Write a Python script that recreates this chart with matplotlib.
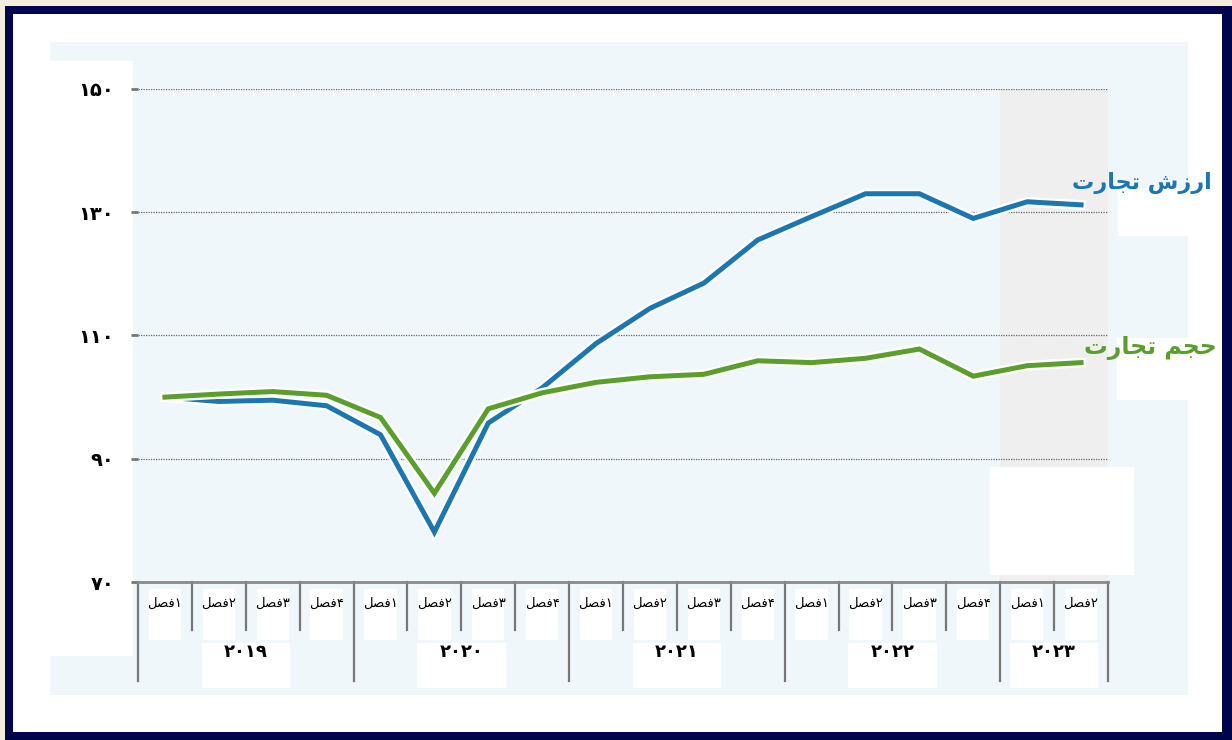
import matplotlib.pyplot as plt
import matplotlib.patheffects as pe
from matplotlib.patches import Rectangle
from matplotlib.transforms import blended_transform_factory
import numpy as np

# quarterly index, 2019 Q1 .. 2023 Q2
years = [2019, 2020, 2021, 2022, 2023]
quarters_per_year = [4, 4, 4, 4, 2]
trade_value = [100.0, 99.3, 99.5, 98.6, 93.9, 78.1, 95.8, 101.5, 108.7, 114.4,
               118.5, 125.5, 129.3, 133.0, 133.0, 129.0, 131.7, 131.2]
trade_volume = [100.0, 100.5, 100.9, 100.3, 96.7, 84.4, 98.1, 100.7, 102.4, 103.3,
                103.7, 105.9, 105.6, 106.3, 107.8, 103.4, 105.1, 105.6]
yticks = [70, 90, 110, 130, 150]

label_value = 'ارزش تجارت'
label_volume = 'حجم تجارت'
quarter_word = 'فصل'

BLUE = '#1b76b1'
GREEN = '#5a9f2c'

# --- tiny arabic shaping (matplotlib does not join letters) ---
forms = {
    'ا': ('\uFE8D', '\uFE8E', None, None),
    'ر': ('\uFEAD', '\uFEAE', None, None),
    'ز': ('\uFEAF', '\uFEB0', None, None),
    'ش': ('\uFEB5', '\uFEB6', '\uFEB7', '\uFEB8'),
    'ت': ('\uFE95', '\uFE96', '\uFE97', '\uFE98'),
    'ج': ('\uFE9D', '\uFE9E', '\uFE9F', '\uFEA0'),
    'ح': ('\uFEA1', '\uFEA2', '\uFEA3', '\uFEA4'),
    'م': ('\uFEE1', '\uFEE2', '\uFEE3', '\uFEE4'),
    'ف': ('\uFED1', '\uFED2', '\uFED3', '\uFED4'),
    'ص': ('\uFEB9', '\uFEBA', '\uFEBB', '\uFEBC'),
    'ل': ('\uFEDD', '\uFEDE', '\uFEDF', '\uFEE0'),
}


def rtl(s):
    out = []
    for i, c in enumerate(s):
        if c not in forms:
            out.append(c)
            continue
        prev = s[i - 1] if i > 0 else ''
        nxt = s[i + 1] if i + 1 < len(s) else ''
        jp = prev in forms and forms[prev][2] is not None
        jn = nxt in forms and forms[c][2] is not None
        iso, fin, ini, med = forms[c]
        if jp and jn:
            out.append(med)
        elif jp:
            out.append(fin)
        elif jn:
            out.append(ini)
        else:
            out.append(iso)
    return ''.join(reversed(out))


def fa(n):
    return ''.join('۰۱۲۳۴۵۶۷۸۹'[int(d)] for d in str(n))


W, H = 1232, 740
fig = plt.figure(figsize=(W / 100, H / 100), dpi=100, facecolor='#f3ece1')


def box(x0, y0, x1, y1, color, z=-1):
    # pixel box, origin top-left
    fig.patches.append(Rectangle((x0 / W, 1 - y1 / H), (x1 - x0) / W, (y1 - y0) / H,
                                 transform=fig.transFigure, facecolor=color,
                                 edgecolor='none', zorder=z))


box(5, 6, W, H, '#00044a', -5)
box(13, 14, 1222, 732, 'white', -4)
box(50, 42, 1188, 695, '#f0f7fb', -3)
box(50, 61, 133, 656, 'white', -2)
box(1118, 188, 1188, 236, 'white', -2)
box(1117, 338, 1188, 400, 'white', -2)
box(990, 467, 1134, 575, 'white', 1)

n = len(trade_value)
x = np.arange(n)
ax = fig.add_axes([138 / W, 1 - 582 / H, 970 / W, 493 / H])
ax.set_facecolor('none')
ax.set_xlim(-0.5, n - 0.5)
ax.set_ylim(70, 150)

ax.axvspan(n - 2.5, n - 0.5, color='#efefef', zorder=0)
for v in yticks[1:]:
    ax.axhline(v, color='#666666', lw=0.9, ls=(0, (1, 1)), zorder=1)

halo = [pe.Stroke(linewidth=7, foreground='white'), pe.Normal()]
ax.plot(x, trade_value, color=BLUE, lw=3.6, solid_joinstyle='miter', path_effects=halo, zorder=3)
ax.plot(x, trade_volume, color=GREEN, lw=3.6, solid_joinstyle='miter', path_effects=halo, zorder=4)

ax.text(18.13, 134.7, rtl(label_value), color=BLUE, fontsize=16, fontweight='bold',
        ha='center', va='center', clip_on=False)
ax.text(18.28, 108.0, rtl(label_volume), color=GREEN, fontsize=17, fontweight='bold',
        ha='center', va='center', clip_on=False)

for s in ['top', 'right', 'left']:
    ax.spines[s].set_visible(False)
ax.spines['bottom'].set_color('#8a8a8a')
ax.spines['bottom'].set_linewidth(2)

ax.set_yticks(yticks)
ax.set_yticklabels([fa(v) for v in yticks], fontsize=14, fontweight='bold')
ax.tick_params(axis='y', length=5, width=2, color='#777777', pad=12)
ax.set_xticks([])

# category axis below
tr = blended_transform_factory(ax.transData, ax.transAxes)
q_lo, y_lo = -0.098, -0.2
bounds = np.cumsum([0] + quarters_per_year) - 0.5
for k in range(n + 1):
    xb = k - 0.5
    bottom = y_lo if xb in bounds else q_lo
    ax.plot([xb, xb], [0, bottom], color='#777777', lw=1.6, transform=tr, clip_on=False)

i = 0
for yr, nq in zip(years, quarters_per_year):
    for q in range(1, nq + 1):
        ax.add_patch(Rectangle((i - 0.3, -0.118), 0.6, 0.103, transform=tr,
                               facecolor='white', edgecolor='none', clip_on=False, zorder=2))
        ax.text(i, -0.043, rtl(quarter_word) + fa(q), fontsize=9.5, ha='center', va='center',
                transform=tr, clip_on=False, zorder=3)
        i += 1
    mid = i - nq / 2 - 0.5
    ax.add_patch(Rectangle((mid - 0.82, -0.215), 1.64, 0.092, transform=tr,
                           facecolor='white', edgecolor='none', clip_on=False, zorder=2))
    ax.text(mid, -0.143, fa(yr), fontsize=13, fontweight='bold', ha='center', va='center',
            transform=tr, clip_on=False, zorder=3)

fig.savefig('out.png', dpi=100, facecolor=fig.get_facecolor())
